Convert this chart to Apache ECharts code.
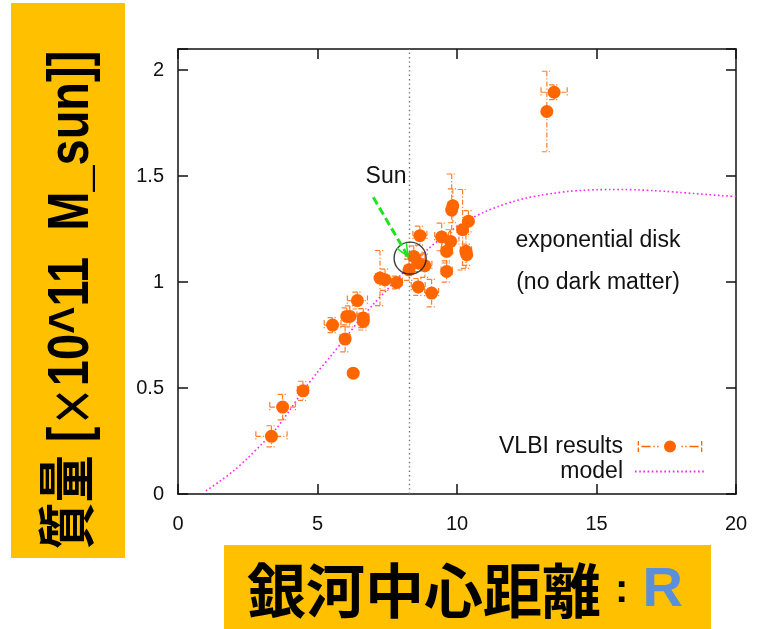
<!DOCTYPE html>
<html>
<head>
<meta charset="utf-8">
<script src="https://cdn.jsdelivr.net/npm/echarts@6/dist/echarts.min.js"></script>
<style>
html,body{margin:0;padding:0;background:#fff;}
#c{width:764px;height:629px;}
</style>
</head>
<body>
<div id="c"></div>
<script>
// ---- data ----
const radius = [3.35, 3.75, 4.48, 5.54, 5.99, 6.28, 6.05, 6.16, 6.43, 6.64, 6.64, 7.24, 7.42, 7.84, 8.28, 8.45, 8.67, 8.61, 8.85, 8.61, 9.09, 9.45, 9.77, 9.63, 9.63, 9.81, 9.85, 10.2, 10.41, 10.32, 10.35, 13.22, 13.48];
const mass   = [0.272, 0.41, 0.487, 0.797, 0.731, 0.570, 0.838, 0.838, 0.913, 0.83, 0.814, 1.019, 1.011, 0.998, 1.058, 1.121, 1.219, 1.09, 1.077, 0.977, 0.948, 1.213, 1.192, 1.145, 1.05, 1.34, 1.36, 1.247, 1.287, 1.145, 1.129, 1.805, 1.896];
const radiusErr = [0.56, 0.46, 0.2, 0.3, 0.18, 0, 0.15, 0.25, 0.36, 0.2, 0.15, 0.15, 0.15, 0.2, 0.15, 0.3, 0.25, 0.2, 0.25, 0.25, 0.25, 0.25, 0.3, 0.2, 0.2, 0.12, 0.1, 0.2, 0.15, 0.2, 0.15, 0.1, 0.47];
const massErr   = [0.05, 0.06, 0.045, 0.035, 0.06, 0, 0.04, 0.05, 0.04, 0.045, 0.04, 0.13, 0.05, 0.03, 0.05, 0.05, 0.045, 0.04, 0.055, 0.04, 0.065, 0.065, 0.055, 0.055, 0.05, 0.17, 0.08, 0.19, 0.05, 0.08, 0.05, 0.19, 0.035];

const modelR = [1.0, 1.5, 2.0, 2.5, 3.0, 3.5, 4.0, 4.5, 5.0, 5.5, 6.0, 6.5, 7.0, 7.5, 8.0, 8.5, 9.0, 9.5, 10.0, 10.5, 11.0, 11.5, 12.0, 12.5, 13.0, 13.5, 14.0, 14.5, 15.0, 15.5, 16.0, 16.5, 17.0, 17.5, 18.0, 18.5, 19.0, 19.5, 20.0];
const modelM = [0.015, 0.06, 0.11, 0.17, 0.235, 0.305, 0.395, 0.49, 0.575, 0.655, 0.737, 0.82, 0.895, 0.965, 1.035, 1.10, 1.16, 1.215, 1.262, 1.30, 1.332, 1.358, 1.38, 1.397, 1.41, 1.42, 1.428, 1.433, 1.436, 1.437, 1.437, 1.435, 1.432, 1.428, 1.423, 1.418, 1.413, 1.408, 1.404];

const xTicks = [0, 5, 10, 15, 20];
const yTicks = [0, 0.5, 1, 1.5, 2];
const sunR = 8.3;
const sunCircle = [8.32, 1.113];
const arrowFrom = [7.0, 1.40];
const arrowTo = [8.25, 1.12];

const seriesName = 'VLBI results';
const modelName = 'model';
const yTitleParts = ['質量 [', '×', '10^11  M_sun]]'];
const xTitleMain = '銀河中心距離';
const xTitleVar = 'R';

// ---- build ----
const pts = radius.map((r, i) => [r, mass[i]]);
const errData = radius.map((r, i) => [r, mass[i], radiusErr[i], massErr[i]]);
const modelData = modelR.map((r, i) => [r, modelM[i]]);

const FONT = '"Liberation Sans", Arial, Helvetica, sans-serif';
const ORANGE = '#ff6600';
const ERRC = '#ff7f2a';

const vlbiIcon = 'path://M0 1h1.4v5H0z M0 8h1.4v5H0z M4 6.3h10v1.4H4z M17 6.3h1.5v1.4H17z M21 6.3h1.5v1.4H21z M28.5 7A6.5 6.5 0 1 0 41.5 7A6.5 6.5 0 1 0 28.5 7z M47.5 6.3h1.5v1.4h-1.5z M51.5 6.3h1.5v1.4h-1.5z M56 6.3h10v1.4H56z M68.6 1H70v5h-1.4z M68.6 8H70v5h-1.4z';

const chart = echarts.init(document.getElementById('c'), null, {renderer: 'canvas'});

const axisCommon = {
  axisLine: {show: true, onZero: false, lineStyle: {color: '#111', width: 1.5}},
  axisTick: {show: true, inside: true, length: 10, lineStyle: {color: '#111', width: 1.5}},
  splitLine: {show: false},
  minorTick: {show: false}
};

chart.setOption({
  animation: false,
  backgroundColor: '#fff',
  grid: {left: 178, right: 28, top: 49, bottom: 135, containLabel: false},
  xAxis: [
    Object.assign({}, axisCommon, {
      type: 'value', min: xTicks[0], max: xTicks[xTicks.length - 1], interval: 5, position: 'bottom',
      axisLabel: {show: true, margin: 20, fontSize: 20, color: '#111', fontFamily: FONT}
    }),
    Object.assign({}, axisCommon, {
      type: 'value', min: xTicks[0], max: xTicks[xTicks.length - 1], interval: 5, position: 'top',
      axisLabel: {show: false}
    })
  ],
  yAxis: [
    Object.assign({}, axisCommon, {
      type: 'value', min: 0, max: 2.1, interval: 0.5, position: 'left',
      axisLabel: {show: true, margin: 14, fontSize: 20, color: '#111', fontFamily: FONT,
        formatter: v => (yTicks.indexOf(+v.toFixed(2)) >= 0 ? String(+v.toFixed(2)) : '')}
    }),
    Object.assign({}, axisCommon, {
      type: 'value', min: 0, max: 2.1, interval: 0.5, position: 'right',
      axisLabel: {show: false}
    })
  ],
  legend: {
    show: true, orient: 'vertical', align: 'right', right: 53, top: 430,
    itemWidth: 70, itemHeight: 12, itemGap: 2,
    textStyle: {fontSize: 23, fontFamily: FONT, color: '#111', lineHeight: 23, padding: [0, 7, 0, 0]},
    data: [{name: seriesName, icon: vlbiIcon}, {name: modelName, itemStyle: {opacity: 0}}]
  },
  series: [
    {
      name: modelName, type: 'line', data: modelData, symbol: 'none', smooth: 0.3,
      lineStyle: {color: '#ff22ff', width: 1.6, type: [1.6, 2.6]},
      itemStyle: {color: '#ff22ff'},
      z: 2,
      markLine: {
        silent: true, symbol: 'none', label: {show: false},
        lineStyle: {color: '#777', width: 1.4, type: [1.4, 3]},
        data: [{xAxis: sunR}]
      }
    },
    {
      name: 'err', type: 'custom', data: errData, z: 3, silent: true,
      renderItem: function (params, api) {
        const x = api.value(0), y = api.value(1), ex = api.value(2), ey = api.value(3);
        const st = {stroke: ERRC, lineWidth: 1.2, lineDash: [5, 2, 1.2, 2], fill: null};
        const cap = 5;
        const ch = [];
        if (ex > 0) {
          const l = api.coord([x - ex, y]), r = api.coord([x + ex, y]);
          ch.push({type: 'line', shape: {x1: l[0], y1: l[1], x2: r[0], y2: r[1]}, style: st});
          ch.push({type: 'line', shape: {x1: l[0], y1: l[1] - cap, x2: l[0], y2: l[1] + cap}, style: st});
          ch.push({type: 'line', shape: {x1: r[0], y1: r[1] - cap, x2: r[0], y2: r[1] + cap}, style: st});
        }
        if (ey > 0) {
          const t = api.coord([x, y + ey]), b = api.coord([x, y - ey]);
          ch.push({type: 'line', shape: {x1: t[0], y1: t[1], x2: b[0], y2: b[1]}, style: st});
          ch.push({type: 'line', shape: {x1: t[0] - cap, y1: t[1], x2: t[0] + cap, y2: t[1]}, style: st});
          ch.push({type: 'line', shape: {x1: b[0] - cap, y1: b[1], x2: b[0] + cap, y2: b[1]}, style: st});
        }
        return {type: 'group', children: ch};
      }
    },
    {
      name: seriesName, type: 'scatter', data: pts, symbol: 'circle', symbolSize: 13,
      itemStyle: {color: ORANGE, opacity: 1}, z: 4
    },
    {
      name: 'sunCircle', type: 'scatter', data: [sunCircle], symbol: 'circle', symbolSize: 32,
      itemStyle: {color: 'rgba(0,0,0,0)', borderColor: '#111', borderWidth: 1.4}, z: 5, silent: true
    },
    {
      name: 'arrow', type: 'custom', data: [[arrowFrom[0], arrowFrom[1], arrowTo[0], arrowTo[1]]], z: 6, silent: true,
      renderItem: function (params, api) {
        const a = api.coord([api.value(0), api.value(1)]);
        const b = api.coord([api.value(2), api.value(3)]);
        const ang = Math.atan2(b[1] - a[1], b[0] - a[0]);
        const L = 14, w = 0.4;
        const p1 = [b[0] - L * Math.cos(ang - w), b[1] - L * Math.sin(ang - w)];
        const p2 = [b[0] - L * Math.cos(ang + w), b[1] - L * Math.sin(ang + w)];
        const g = '#22e022';
        return {type: 'group', children: [
          {type: 'line', shape: {x1: a[0], y1: a[1], x2: b[0], y2: b[1]}, style: {stroke: g, lineWidth: 3, lineDash: [8, 4]}},
          {type: 'line', shape: {x1: b[0], y1: b[1], x2: p1[0], y2: p1[1]}, style: {stroke: g, lineWidth: 1.5}},
          {type: 'line', shape: {x1: b[0], y1: b[1], x2: p2[0], y2: p2[1]}, style: {stroke: g, lineWidth: 1.5}}
        ]};
      }
    }
  ],
  graphic: [
    {type: 'rect', left: 11, top: 3, shape: {width: 114, height: 555}, style: {fill: '#FFC000'}, z: 0},
    {type: 'text', x: 72, y: 300, rotation: Math.PI / 2, scaleX: 0.81,
      style: {text: '{l|' + yTitleParts[0] + '}{k|' + yTitleParts[1] + '}{l|' + yTitleParts[2] + '}',
        align: 'center', verticalAlign: 'middle',
        rich: {
          l: {font: 'bold 58px "Liberation Sans", "Noto Sans CJK JP", sans-serif', fill: '#000'},
          k: {font: 'bold 50px "Noto Sans CJK JP", sans-serif', fill: '#000'}
        }}, z: 1},
    {type: 'rect', left: 224, top: 545, shape: {width: 487, height: 84}, style: {fill: '#FFC000'}, z: 0},
    {type: 'text', x: 465, y: 591,
      style: {text: '{a|' + xTitleMain + '}{b|:}{c|' + xTitleVar + '}', align: 'center', verticalAlign: 'middle',
        rich: {
          a: {font: 'bold 59px "Noto Sans CJK JP", sans-serif', fill: '#000'},
          b: {font: 'bold 40px "Liberation Sans", sans-serif', fill: '#000', padding: [0, 14, 0, 14]},
          c: {font: 'bold 56px "Liberation Sans", sans-serif', fill: '#5b8fd8'}
        }}, z: 1},
    {type: 'text', x: 386, y: 177, style: {text: 'Sun', font: '23px ' + FONT, fill: '#111', align: 'center', verticalAlign: 'middle'}, z: 10},
    {type: 'text', x: 598, y: 241, style: {text: 'exponential disk', font: '23px ' + FONT, fill: '#111', align: 'center', verticalAlign: 'middle'}, z: 10},
    {type: 'text', x: 598, y: 283, style: {text: '(no dark matter)', font: '23px ' + FONT, fill: '#111', align: 'center', verticalAlign: 'middle'}, z: 10}
  ]
});
</script>
</body>
</html>
